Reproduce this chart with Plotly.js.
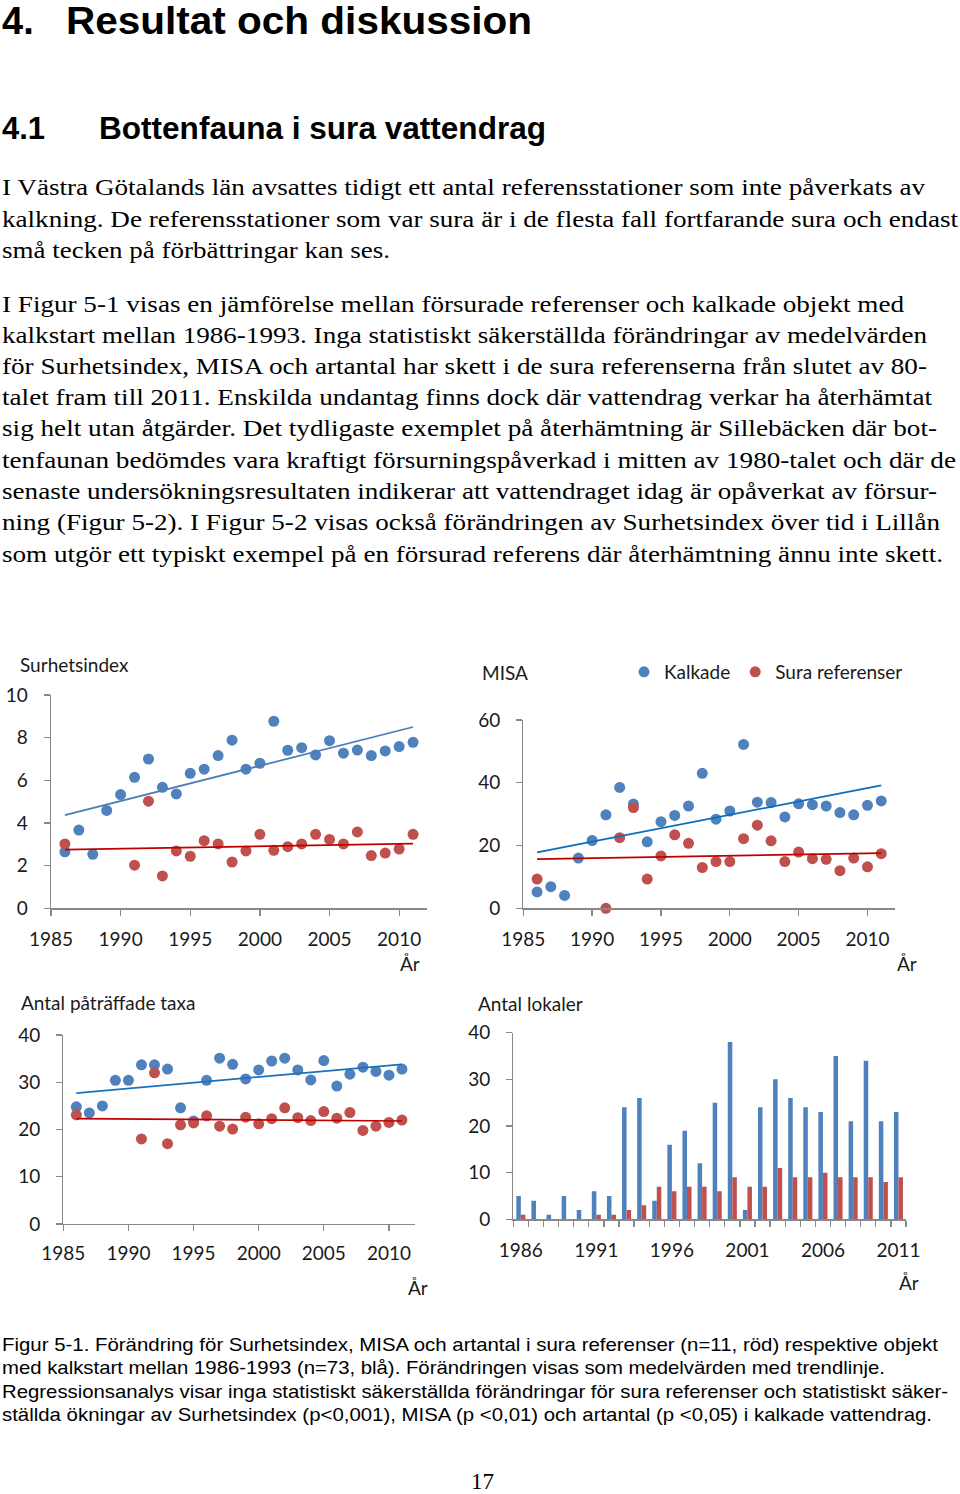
<!DOCTYPE html>
<html lang="sv">
<head>
<meta charset="utf-8">
<script src="https://cdn.plot.ly/plotly-3.0.1.min.js"></script>
<style>
html,body{margin:0;padding:0;background:#fff;}
#page{position:relative;width:960px;height:1494px;overflow:hidden;background:#fff;}
.ln{position:absolute;white-space:nowrap;transform-origin:0 50%;line-height:1.15;color:#000;}
.h1{font-family:"Liberation Sans",Arial,Helvetica,sans-serif;font-weight:bold;font-size:38px;}
.h2{font-family:"Liberation Sans",Arial,Helvetica,sans-serif;font-weight:bold;font-size:31px;}
.bt{font-family:"Liberation Serif","Times New Roman",Tinos,Times,serif;font-size:24px;}
.cap{font-family:"Liberation Sans Narrow","Arial Narrow","Liberation Sans",Arial,sans-serif;font-size:19px;}
#chart{position:absolute;left:0;top:640px;width:960px;height:670px;}
</style>
</head>
<body>
<div id="page">
  <div class="ln h1" style="left:2px;top:0px;">4.</div>
  <div class="ln h1" style="left:66px;top:0px;" data-w="466">Resultat och diskussion</div>
  <div class="ln h2" style="left:2px;top:111px;">4.1</div>
  <div class="ln h2" style="left:99px;top:111px;" data-w="447">Bottenfauna i sura vattendrag</div>

  <div class="ln bt" style="left:2px;top:174px;" data-w="923">I Västra Götalands län avsattes tidigt ett antal referensstationer som inte påverkats av</div>
  <div class="ln bt" style="left:2px;top:206px;" data-w="956">kalkning. De referensstationer som var sura är i de flesta fall fortfarande sura och endast</div>
  <div class="ln bt" style="left:2px;top:237px;" data-w="388">små tecken på förbättringar kan ses.</div>

  <div class="ln bt" style="left:2px;top:291px;" data-w="902">I Figur 5-1 visas en jämförelse mellan försurade referenser och kalkade objekt med</div>
  <div class="ln bt" style="left:2px;top:322px;" data-w="925">kalkstart mellan 1986-1993. Inga statistiskt säkerställda förändringar av medelvärden</div>
  <div class="ln bt" style="left:2px;top:353px;" data-w="925">för Surhetsindex, MISA och artantal har skett i de sura referenserna från slutet av 80-</div>
  <div class="ln bt" style="left:2px;top:384px;" data-w="930">talet fram till 2011. Enskilda undantag finns dock där vattendrag verkar ha återhämtat</div>
  <div class="ln bt" style="left:2px;top:415px;" data-w="935">sig helt utan åtgärder. Det tydligaste exemplet på återhämtning är Sillebäcken där bot-</div>
  <div class="ln bt" style="left:2px;top:447px;" data-w="954">tenfaunan bedömdes vara kraftigt försurningspåverkad i mitten av 1980-talet och där de</div>
  <div class="ln bt" style="left:2px;top:478px;" data-w="935">senaste undersökningsresultaten indikerar att vattendraget idag är opåverkat av försur-</div>
  <div class="ln bt" style="left:2px;top:509px;" data-w="938">ning (Figur 5-2). I Figur 5-2 visas också förändringen av Surhetsindex över tid i Lillån</div>
  <div class="ln bt" style="left:2px;top:541px;" data-w="941">som utgör ett typiskt exempel på en försurad referens där återhämtning ännu inte skett.</div>

  <div id="chart"></div>

  <div class="ln cap" style="left:2px;top:1334px;" data-w="936">Figur 5-1. Förändring för Surhetsindex, MISA och artantal i sura referenser (n=11, röd) respektive objekt</div>
  <div class="ln cap" style="left:2px;top:1357px;" data-w="883">med kalkstart mellan 1986-1993 (n=73, blå). Förändringen visas som medelvärden med trendlinje.</div>
  <div class="ln cap" style="left:2px;top:1381px;" data-w="946">Regressionsanalys visar inga statistiskt säkerställda förändringar för sura referenser och statistiskt säker-</div>
  <div class="ln cap" style="left:2px;top:1404px;" data-w="930">ställda ökningar av Surhetsindex (p&lt;0,001), MISA (p &lt;0,01) och artantal (p &lt;0,05) i kalkade vattendrag.</div>

  <div class="ln bt" style="left:471px;top:1468px;" data-w="23">17</div>
</div>

<script>
// ---------------- DATA ----------------
const years = [1986,1987,1988,1989,1990,1991,1992,1993,1994,1995,1996,1997,1998,1999,2000,2001,2002,2003,2004,2005,2006,2007,2008,2009,2010,2011];
const trendYears = [1986, 2011];

const surhKalkade = [2.65,3.67,2.53,4.59,5.33,6.14,7.0,5.67,5.36,6.33,6.52,7.16,7.88,6.52,6.8,8.77,7.41,7.53,7.19,7.86,7.27,7.42,7.16,7.38,7.58,7.78];
const surhSura    = [3.02,null,null,null,null,2.02,5.02,1.52,2.69,2.44,3.17,3.02,2.17,2.69,3.47,2.72,2.89,3.02,3.47,3.23,3.02,3.58,2.47,2.59,2.78,3.47];
const surhTrendKalkade = [4.37, 8.5];
const surhTrendSura    = [2.75, 3.03];

const misaKalkade = [5.2,6.9,4.1,16.0,21.6,29.8,38.5,33.2,21.2,27.6,29.6,32.6,43.0,28.4,31.0,52.2,33.8,33.7,29.1,33.3,33.0,32.6,30.5,29.8,32.8,34.2];
const misaSura    = [9.3,null,null,null,null,0,22.5,32.1,9.3,16.7,23.4,20.7,13.0,14.9,14.9,22.2,26.5,21.5,14.9,17.9,15.8,15.6,12.0,16.0,13.2,17.4];
const misaTrendKalkade = [17.8, 39.2];
const misaTrendSura    = [15.7, 17.6];

const taxaKalkade = [24.8,23.5,25.0,30.4,30.4,33.7,33.7,32.8,24.6,21.8,30.4,35.1,33.8,30.7,32.6,34.5,35.1,32.6,30.5,34.6,29.2,31.7,33.2,32.3,31.5,32.8];
const taxaSura    = [23.1,null,null,null,null,18.0,32.0,17.0,21.0,21.4,22.9,20.7,20.1,22.6,21.2,22.3,24.6,22.5,21.9,23.8,22.4,23.6,19.8,20.7,21.5,22.0];
const taxaTrendKalkade = [27.7, 33.8];
const taxaTrendSura    = [22.3, 21.8];

const lokalerKalkade = [5,4,1,5,2,6,5,24,26,4,16,19,12,25,38,2,24,30,26,24,23,35,21,34,21,23];
const lokalerSura    = [1,0,0,0,0,1,1,2,3,7,6,7,7,6,9,7,7,11,9,9,10,9,9,9,8,9];

const seriesNames = ['Kalkade', 'Sura referenser'];
const xTickYears = [1985,1990,1995,2000,2005,2010];
const barTickYears = [1986,1991,1996,2001,2006,2011];

// ---------------- STYLE ----------------
const BLUE = '#4f81bd', RED = '#c0504d';
const TREND_RED = '#c00000';
const AXIS = '#898989';
const FONT = 'Lato, "Open Sans", sans-serif';
const tickFont = {family: FONT, size: 19, color: '#1a1a1a'};

const W = 960, H = 670, TOP = 640;
const fx = x => x / W;
const fy = y => 1 - (y - TOP) / H;

function markers(x, y, color, xa, ya, name, showlegend) {
  return {type:'scatter', mode:'markers', x, y, xaxis:xa, yaxis:ya, name,
    showlegend, cliponaxis:false, hoverinfo:'x+y',
    marker:{color, size:11, line:{width:0}}};
}
function trend(x, y, color, xa, ya) {
  return {type:'scatter', mode:'lines', x, y, xaxis:xa, yaxis:ya, showlegend:false,
    cliponaxis:false, hoverinfo:'skip', line:{color, width:1.75}};
}

const traces = [
  markers(years, surhKalkade, BLUE, 'x', 'y', seriesNames[0], false),
  markers(years, surhSura, RED, 'x', 'y', seriesNames[1], false),
  trend(trendYears, surhTrendKalkade, '#4a7ebb', 'x', 'y'),
  trend(trendYears, surhTrendSura, TREND_RED, 'x', 'y'),

  markers(years, misaKalkade, BLUE, 'x2', 'y2', seriesNames[0], true),
  markers(years, misaSura, RED, 'x2', 'y2', seriesNames[1], true),
  trend(trendYears, misaTrendKalkade, '#0a6ebd', 'x2', 'y2'),
  trend(trendYears, misaTrendSura, TREND_RED, 'x2', 'y2'),

  markers(years, taxaKalkade, BLUE, 'x3', 'y3', seriesNames[0], false),
  markers(years, taxaSura, RED, 'x3', 'y3', seriesNames[1], false),
  trend(trendYears, taxaTrendKalkade, '#1a72bf', 'x3', 'y3'),
  trend(trendYears, taxaTrendSura, TREND_RED, 'x3', 'y3'),

  {type:'bar', x:years, y:lokalerKalkade, xaxis:'x4', yaxis:'y4', name:seriesNames[0], showlegend:false, marker:{color:BLUE, line:{width:0}}},
  {type:'bar', x:years, y:lokalerSura, xaxis:'x4', yaxis:'y4', name:seriesNames[1], showlegend:false, marker:{color:RED, line:{width:0}}}
];

function xAxis(x0, x1, anchor, extra) {
  return Object.assign({domain:[fx(x0), fx(x1)], anchor, showline:true, linecolor:AXIS, linewidth:1.3,
    showgrid:false, zeroline:false, ticks:'outside', ticklen:6, tickwidth:1.3, tickcolor:AXIS,
    tickfont:tickFont, ticklabelstandoff:8, fixedrange:true}, extra);
}
function yAxis(yTop, yBot, anchor, extra) {
  return Object.assign({domain:[fy(yBot), fy(yTop)], anchor, showline:true, linecolor:AXIS, linewidth:1.3,
    showgrid:false, zeroline:false, ticks:'outside', ticklen:6, tickwidth:1.3, tickcolor:AXIS,
    tickfont:tickFont, ticklabelstandoff:12, fixedrange:true}, extra);
}

function ann(text, x, y, xanchor) {
  return {text, x:fx(x), y:fy(y), xref:'paper', yref:'paper', xanchor:xanchor||'left', yanchor:'middle',
    showarrow:false, font:{family:FONT, size:19, color:'#1a1a1a'}};
}

const layout = {
  width:W, height:H, margin:{l:0, r:0, t:0, b:0},
  paper_bgcolor:'#fff', plot_bgcolor:'rgba(0,0,0,0)',
  barmode:'group', bargap:0.4, bargroupgap:0,
  showlegend:true,
  legend:{orientation:'h', x:fx(624), xanchor:'left', y:fy(672), yanchor:'middle',
    font:{family:FONT, size:19, color:'#1a1a1a'}, bgcolor:'rgba(0,0,0,0)', traceorder:'normal'},
  xaxis: xAxis(51, 427, 'y', {range:[1985, 2012], tickmode:'array', tickvals:xTickYears}),
  yaxis: yAxis(695, 908.3, 'x', {range:[0, 10], dtick:2, tick0:0}),
  xaxis2: xAxis(523.3, 895, 'y2', {range:[1985, 2012], tickmode:'array', tickvals:xTickYears}),
  yaxis2: yAxis(720, 908.3, 'x2', {range:[0, 60], dtick:20, tick0:0}),
  xaxis3: xAxis(63.3, 415, 'y3', {range:[1985, 2012], tickmode:'array', tickvals:xTickYears, ticklabelstandoff:6}),
  yaxis3: yAxis(1035, 1224, 'x3', {range:[0, 40], dtick:10, tick0:0}),
  xaxis4: xAxis(513.3, 906, 'y4', {range:[1985.5, 2011.5], tickmode:'array', tickvals:barTickYears, ticks:'',
    ticklabelstandoff:14,
    minor:{tick0:1985.5, dtick:1, ticks:'outside', ticklen:6, tickwidth:1.3, tickcolor:AXIS, showgrid:false}}),
  yaxis4: yAxis(1032.7, 1219.3, 'x4', {range:[0, 40], dtick:10, tick0:0}),
  annotations:[
    ann('Surhetsindex', 18, 664),
    ann('År', 410, 963, 'center'),
    ann('MISA', 480, 672),
    ann('År', 907, 963, 'center'),
    ann('Antal påträffade taxa', 19, 1002),
    ann('År', 418, 1287, 'center'),
    ann('Antal lokaler', 476, 1004),
    ann('År', 909, 1282, 'center')
  ]
};

Plotly.newPlot('chart', traces, layout, {displayModeBar:false, staticPlot:true});

function fitLines(){
  document.querySelectorAll('.ln[data-w]').forEach(el=>{
    el.style.transform = 'none';
    const w = el.getBoundingClientRect().width;
    const tw = parseFloat(el.dataset.w);
    if (w > 0 && tw > 0) el.style.transform = 'scaleX(' + (tw / w) + ')';
  });
}
fitLines();
if (document.fonts && document.fonts.ready) document.fonts.ready.then(fitLines);
</script>
</body>
</html>
